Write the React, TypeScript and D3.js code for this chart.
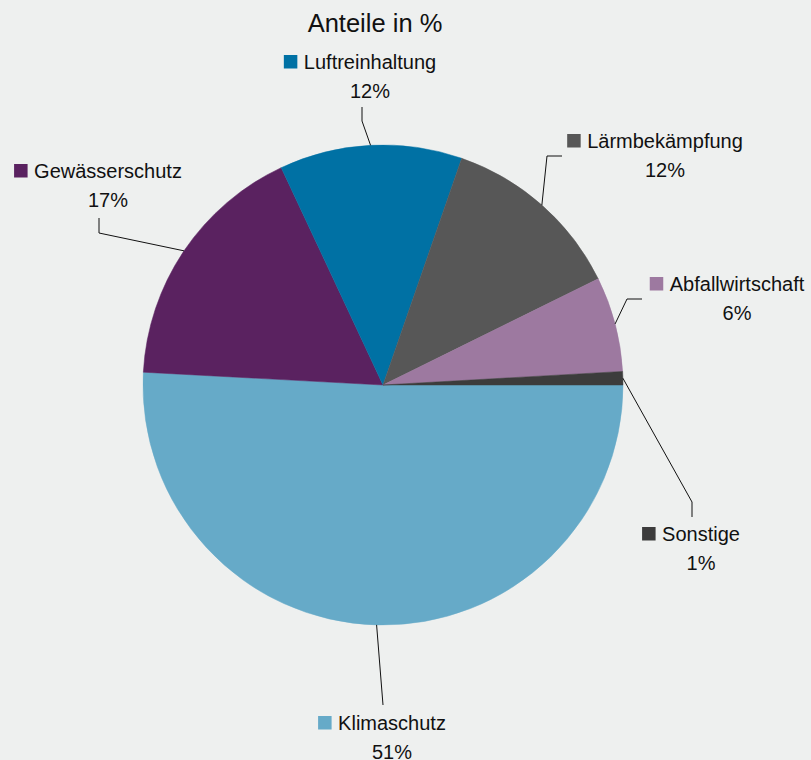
import React from "react";
import * as d3 from "d3";

const categories = ["Klimaschutz", "Gewässerschutz", "Luftreinhaltung", "Lärmbekämpfung", "Abfallwirtschaft", "Sonstige"];
const values = [50.9, 17.2, 12.3, 12.4, 6.4, 0.9];
const percentLabels = ["51%", "17%", "12%", "12%", "6%", "1%"];
const colors = ["#66aac8", "#5a2260", "#0071a4", "#575757", "#9d79a0", "#3c3c3c"];
const title = "Anteile in %";

// layout: label text centre x, label baseline y, leader elbow points
const labelLayout = [
  { x: 392, y: 730, leader: [[383, 705]] },
  { x: 108, y: 178, leader: [[99, 233], [99, 218]] },
  { x: 370, y: 69, leader: [[362, 121], [362, 107]] },
  { x: 665, y: 148, leader: [[547, 156], [562, 156]] },
  { x: 737, y: 291, leader: [[627, 299], [642, 299]] },
  { x: 701, y: 541, leader: [[692, 502], [692, 517]] },
];

const W = 811;
const H = 760;
const cx = 383;
const cy = 385;
const R = 240;
const FONT = "'Liberation Sans', Arial, Helvetica, sans-serif";

export default function App() {
  const data = categories.map((c, i) => ({ name: c, value: values[i], pct: percentLabels[i], color: colors[i], i }));
  const pie = d3
    .pie<any>()
    .sort(null)
    .value((d: any) => d.value)
    .startAngle(Math.PI / 2)
    .endAngle(Math.PI / 2 + 2 * Math.PI);
  const arcs = pie(data);
  const arc = d3.arc<any>().innerRadius(0).outerRadius(R);
  const line = d3.line();

  return (
    <svg width={W} height={H} style={{ position: "absolute", left: 0, top: 0, background: "#eef0ef" }} fontFamily={FONT}>
      <rect x={0} y={0} width={W} height={H} fill="#eef0ef" />
      <text x={375} y={32} textAnchor="middle" fontSize={25.5} fill="#111">{title}</text>
      <g transform={`translate(${cx},${cy})`}>
        {arcs.map((a: any) => (
          <path key={a.data.name} d={arc(a) as string} fill={a.data.color} stroke={a.data.color} strokeWidth={0.5} />
        ))}
      </g>
      {arcs.map((a: any) => {
        const mid = (a.startAngle + a.endAngle) / 2;
        const px = cx + R * Math.sin(mid);
        const py = cy - R * Math.cos(mid);
        const lay = labelLayout[a.data.i];
        const pts: [number, number][] = [[px, py], ...(lay.leader as [number, number][])];
        return (
          <path key={"l" + a.data.name} d={line(pts) as string} fill="none" stroke="#111" strokeWidth={1} />
        );
      })}
      {arcs.map((a: any) => {
        const lay = labelLayout[a.data.i];
        return (
          <g key={"t" + a.data.name}>
            <text x={lay.x} y={lay.y} textAnchor="middle" fontSize={20} fill="#111">{a.data.name}</text>
            <text x={lay.x} y={lay.y + 28.5} textAnchor="middle" fontSize={20} fill="#111">{a.data.pct}</text>
          </g>
        );
      })}
      {arcs.map((a: any) => {
        const lay = labelLayout[a.data.i];
        const tw = measure(a.data.name);
        return (
          <rect key={"m" + a.data.name} x={lay.x - tw / 2 - 20} y={lay.y - 14} width={13.5} height={13.5} fill={a.data.color} />
        );
      })}
    </svg>
  );
}

function measure(s: string): number {
  if (typeof document === "undefined") return s.length * 10;
  const c = document.createElement("canvas");
  const ctx = c.getContext("2d");
  if (!ctx) return s.length * 10;
  ctx.font = `20px 'Liberation Sans', Arial, sans-serif`;
  return ctx.measureText(s).width;
}
